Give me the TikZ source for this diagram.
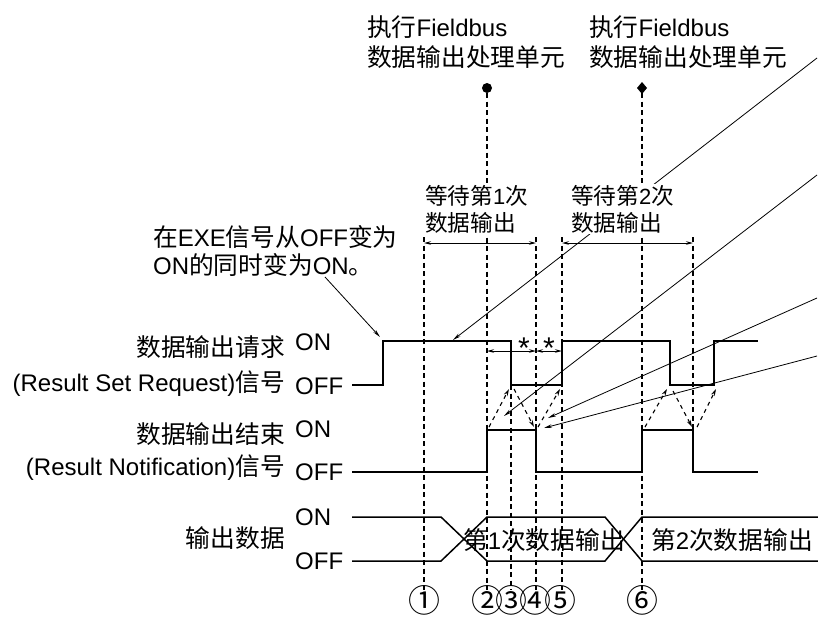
\documentclass[tikz,border=0pt]{standalone}
\usepackage{fontspec}
\setmainfont{Liberation Sans}
\newfontfamily\cjk[Scale=1.03]{Noto Sans CJK SC}
\newcommand{\zh}[1]{{\cjk #1}}
\usetikzlibrary{arrows.meta}

\begin{document}
\begin{tikzpicture}[x=1pt,y=-1pt,
    senal/.style={line width=1.8pt},
    bus/.style={line width=1.5pt},
    guia/.style={line width=1.2pt, dash pattern=on 5pt off 3.5pt},
    cota/.style={line width=0.9pt, {Stealth[length=7pt,width=3.5pt]}-{Stealth[length=7pt,width=3.5pt]}},
    flecha/.style={line width=0.8pt, -{Stealth[length=8pt,width=3.5pt]}},
    punteada/.style={line width=1.1pt, dash pattern=on 4pt off 4pt, -{Stealth[length=7pt,width=4pt]}},
    texto/.style={font=\fontsize{24}{30}\selectfont, inner sep=0pt},
    circulo/.style={font=\fontsize{31}{31}\selectfont, inner sep=0pt},
    chico/.style={font=\fontsize{22}{27}\selectfont, inner sep=1pt, fill=white, align=left}]
    % Marco
    \useasboundingbox (0,0) rectangle (818,616);

    % Lineas de tiempo punteadas
    \draw[guia] (424,237) -- (424,590);
    \draw[guia] (487,93) -- (487,590);
    \draw[guia] (511,385) -- (511,590);
    \draw[guia] (536,237) -- (536,590);
    \draw[guia] (562,237) -- (562,590);
    \draw[guia] (642,93) -- (642,590);
    \draw[guia] (693,237) -- (693,430);

    % Puntos de ejecucion
    \fill (487,88) circle (5);
    \fill (642,82) -- (647,88) -- (642,94) -- (637,88) -- cycle;

    % Cotas de espera
    \draw[cota] (424,243) -- (536,243);
    \draw[cota] (562,243) -- (693,243);

    % Senal de peticion
    \draw[senal] (352,385) -- (383,385) -- (383,341) -- (511,341) -- (511,385) -- (562,385)
        -- (562,341) -- (670,341) -- (670,385) -- (714,385) -- (714,341) -- (758,341);
    % Senal de notificacion
    \draw[senal] (352,472) -- (487,472) -- (487,430) -- (536,430) -- (536,472) -- (642,472)
        -- (642,430) -- (693,430) -- (693,472) -- (758,472);
    % Datos de salida
    \draw[bus] (352,517) -- (441,517) -- (487,561) -- (605,561) -- (642,517) -- (818,517);
    \draw[bus] (352,561) -- (441,561) -- (487,517) -- (605,517) -- (642,561) -- (818,561);

    % Intervalos marcados con *
    \draw[cota] (487,351) -- (536,351);
    \draw[cota] (536,351) -- (562,351);
    \node[font=\fontsize{30}{30}\selectfont, inner sep=0pt, anchor=base] (ast1) at (524,358) {*};
    \node[font=\fontsize{30}{30}\selectfont, inner sep=0pt, anchor=base] (ast2) at (549,358) {*};

    % Flechas punteadas entre senales
    \draw[punteada] (489,427) -- (509,389);
    \draw[punteada] (514,389) -- (534,427);
    \draw[punteada] (538,427) -- (560,389);
    \draw[punteada] (645,427) -- (667,389);
    \draw[punteada] (673,391) -- (692,427);
    \draw[punteada] (697,427) -- (716,389);

    % Lineas de llamada
    \coordinate (llA) at (817,58);
    \coordinate (llB) at (817,175);
    \coordinate (llC) at (817,298);
    \coordinate (llD) at (817,356);
    \coordinate (nota) at (325,277);
    \draw[flecha] (llA) -- (453,340);
    \draw[flecha] (llB) -- (504,416);
    \draw[flecha] (llC) -- (548,418);
    \draw[flecha] (llD) -- (544,428);
    \draw[flecha] (nota) -- (380,337);

    % Textos superiores
    \node[texto, anchor=base west] (fb1a) at (367,36) {\zh{执行}Fieldbus};
    \node[texto, anchor=base west] (fb1b) at (367,66) {\zh{数据输出处理单元}};
    \node[texto, anchor=base west] (fb2a) at (589,36) {\zh{执行}Fieldbus};
    \node[texto, anchor=base west] (fb2b) at (589,66) {\zh{数据输出处理单元}};
    \node[chico, anchor=north west] (espera1) at (424,184) {\zh{等待第}1\zh{次}\\\zh{数据输出}};
    \node[chico, anchor=north west] (espera2) at (570,184) {\zh{等待第}2\zh{次}\\\zh{数据输出}};
    \node[texto, anchor=base west] (nota1) at (153,246) {\zh{在}EXE\zh{信号从}OFF\zh{变为}};
    \node[texto, anchor=base west] (nota2) at (153,274) {ON\zh{的同时变为}ON\zh{。}};

    % Nombres de senales
    \node[texto, anchor=base east] (pet1) at (285,356) {\zh{数据输出请求}};
    \node[texto, anchor=base east] (pet2) at (285,391) {(Result Set Request)\zh{信号}};
    \node[texto, anchor=base east] (not1) at (285,443) {\zh{数据输出结束}};
    \node[texto, anchor=base east] (not2) at (285,475) {(Result Notification)\zh{信号}};
    \node[texto, anchor=base east] (dat) at (285,547) {\zh{输出数据}};

    % Niveles ON / OFF
    \node[texto, anchor=base west] (on1) at (295,350) {ON};
    \node[texto, anchor=base west] (off1) at (295,394) {OFF};
    \node[texto, anchor=base west] (on2) at (295,437) {ON};
    \node[texto, anchor=base west] (off2) at (295,480) {OFF};
    \node[texto, anchor=base west] (on3) at (295,525) {ON};
    \node[texto, anchor=base west] (off3) at (295,569) {OFF};

    % Textos del bus de datos
    \node[texto, anchor=base] (dato1) at (544,549) {\zh{第}1\zh{次数据输出}};
    \node[texto, anchor=base] (dato2) at (732,549) {\zh{第}2\zh{次数据输出}};

    % Numeros de instante
    \node[circulo, anchor=base] (n1) at (424,612) {\zh{①}};
    \node[circulo, anchor=base] (n2) at (487,612) {\zh{②}};
    \node[circulo, anchor=base] (n3) at (511,612) {\zh{③}};
    \node[circulo, anchor=base] (n4) at (535,612) {\zh{④}};
    \node[circulo, anchor=base] (n5) at (560,612) {\zh{⑤}};
    \node[circulo, anchor=base] (n6) at (642,612) {\zh{⑥}};
\end{tikzpicture}
\end{document}
